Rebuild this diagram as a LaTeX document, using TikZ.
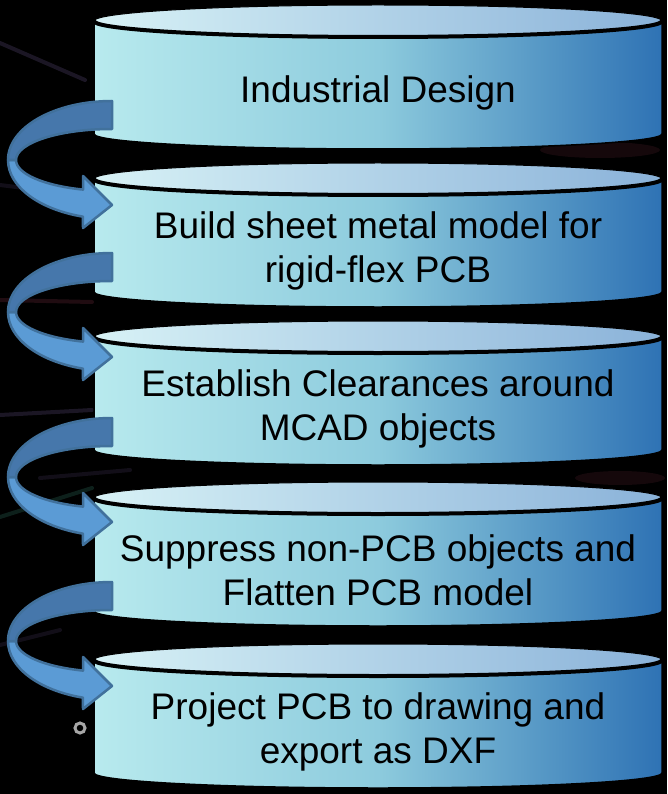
\documentclass[tikz,border=0pt]{standalone}
\usepackage{fontspec}
\setmainfont{Liberation Sans}
\definecolor{bodyL}{HTML}{B8EAEE}
\definecolor{bodyM}{HTML}{8DCBDD}
\definecolor{bodyR}{HTML}{2E72B4}
\definecolor{topL}{HTML}{D8F2F6}
\definecolor{topR}{HTML}{8AB2D9}
\definecolor{arrDark}{HTML}{4677AB}
\definecolor{arrLight}{HTML}{5B9BD5}
\definecolor{arrEdge}{HTML}{41719C}
\definecolor{bgpurple}{HTML}{5A4A7A}
\definecolor{bgred}{HTML}{6A2A3A}
\definecolor{bgteal}{HTML}{2E6A5A}
\tikzset{
 cylbody/.style={left color=bodyL, right color=bodyR, middle color=bodyM, draw=black, line width=1.5pt},
 cyltop/.style={left color=topL, right color=topR, draw=black, line width=1pt},
 cylrim/.style={draw=black, line width=4pt},
 cyltext/.style={font=\fontsize{37}{44}\selectfont, align=center, text=black, inner sep=0pt},
 arrdark/.style={fill=arrDark, draw=arrEdge, line width=2.5pt, line join=round},
 arrlight/.style={fill=arrLight, draw=arrEdge, line width=2.5pt, line join=round},
 streak/.style={line width=4pt, line cap=round, opacity=0.3},
}
\newcommand{\mycyl}[3]{%
 \path[cylbody] (94,#1) -- (94,#1+113) arc[start angle=180,end angle=0,x radius=284,y radius=15]
   -- (662,#1) arc[start angle=0,end angle=180,x radius=284,y radius=16] -- cycle;
 \path[cyltop] (378,#1) ellipse[x radius=284,y radius=16];
 \draw[cylrim] (662,#1) arc[start angle=0,end angle=180,x radius=284,y radius=16];
 \node[cyltext] (#2) at (378,#1+72) {#3};
}
\newcommand{\myarrow}[2]{%
 \begin{scope}[shift={(0,#1)}]
 \path[arrlight] (8,160) arc[start angle=180,end angle=106.2,x radius=104,y radius=59]
   -- (83,228) -- (112,205) coordinate (#2) -- (83,176) -- (83,189.6)
   arc[start angle=107.6,end angle=180,x radius=96,y radius=31] -- cycle;
 \path[arrdark] (112,101) arc[start angle=270,end angle=180,x radius=104,y radius=59]
   -- (16,160) arc[start angle=180,end angle=270,x radius=96,y radius=31] -- cycle;
 \end{scope}
}
\begin{document}
\begin{tikzpicture}[x=1pt,y=-1pt]
\useasboundingbox (0,0) rectangle (667,794);
\fill[black] (0,0) rectangle (667,794);
% faint background streaks
\draw[streak, bgpurple] (0,43) -- (85,80);
\draw[streak, bgpurple, opacity=0.2] (0,185) -- (40,190);
\draw[streak, bgred] (0,300) -- (92,302);
\draw[streak, bgpurple] (0,415) -- (92,410);
\draw[streak, bgpurple, opacity=0.2] (40,478) -- (130,470);
\draw[streak, bgteal] (0,517) -- (92,488);
\draw[streak, bgpurple, opacity=0.2] (0,645) -- (60,630);
\fill[bgred, opacity=0.2] (600,150) ellipse[x radius=60,y radius=8];
\fill[bgred, opacity=0.2] (620,478) ellipse[x radius=45,y radius=7];
\draw[gray!70, line width=3pt] (80,728) circle[radius=5];
% cylinders
\mycyl{21}{c1}{Industrial Design}
\mycyl{179}{c2}{Build sheet metal model for\\rigid-flex PCB}
\mycyl{337}{c3}{Establish Clearances around\\MCAD objects}
\mycyl{498}{c4}{Suppress non-PCB objects and\\Flatten PCB model}
\mycyl{660}{c5}{Project PCB to drawing and\\export as DXF}
% curved arrows
\myarrow{0}{a1}
\myarrow{152}{a2}
\myarrow{317}{a3}
\myarrow{481}{a4}
\end{tikzpicture}
\end{document}
